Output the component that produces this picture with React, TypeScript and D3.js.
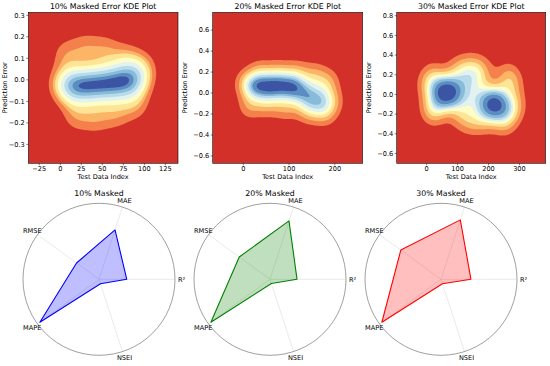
import React, { useMemo } from "react";
import * as d3 from "d3";

// ---------- KDE data (test data index, prediction error) ----------
const kdeTitles = ["10% Masked Error KDE Plot", "20% Masked Error KDE Plot", "30% Masked Error KDE Plot"];

const idx10 = [2, 6, 10, 14, 18, 22, 26, 30, 34, 38, 42, 46, 50, 54, 58, 62, 66, 70, 74, 78, 82, 86, 90, 94, 98];
const err10 = [-0.02, 0.12, -0.03, -0.03, -0.17, -0.03, -0.025, 0.15, -0.025, -0.025, -0.18, -0.02, -0.02, 0.14, -0.02, -0.015, -0.16, -0.01, -0.01, 0.1, -0.005, -0.005, -0.12, 0.0, 0.06];

const idx20 = [4, 12, 20, 28, 36, 44, 52, 60, 68, 76, 84, 92, 100, 108, 116, 124, 132, 140, 148, 156, 164, 172, 180, 188, 196];
const err20 = [0.1, -0.14, 0.05, 0.06, 0.2, 0.055, -0.12, 0.06, 0.055, 0.2, 0.06, -0.15, 0.055, 0.05, 0.2, 0.05, -0.05, -0.18, 0.0, 0.18, -0.12, -0.02, -0.2, 0.12, -0.08];

const idx30 = [0, 10, 20, 30, 40, 50, 60, 70, 80, 90, 100, 110, 120, 130, 140, 150, 160, 170, 180, 190, 200, 210, 220, 230, 240, 250, 260, 270, 280, 290];
const err30 = [0.1, -0.15, 0.2, -0.18, 0.03, 0.0, 0.04, 0.01, 0.03, -0.01, 0.26, -0.24, 0.12, -0.06, 0.28, -0.28, 0.15, -0.05, 0.26, -0.26, -0.08, -0.1, -0.09, -0.1, -0.08, -0.3, 0.2, -0.2, 0.12, -0.1];

const kdeIdx = [idx10, idx20, idx30];
const kdeErr = [err10, err20, err30];
const kdeBandwidth = [[13, 0.06], [20, 0.1], [30, 0.12]];
const isoProportions = [0.1, 0.2, 0.3, 0.4, 0.5, 0.6, 0.7, 0.8, 0.9];

const xLimits = [[-38, 140], [-67, 261], [-97, 385]];
const yLimits = [[-0.388, 0.314], [-0.67, 0.77], [-0.70, 0.835]];
const xTickValues = [[-25, 0, 25, 50, 75, 100, 125], [0, 100, 200], [0, 100, 200, 300]];
const yTickValues = [
  [-0.3, -0.2, -0.1, 0, 0.1, 0.2, 0.3],
  [-0.6, -0.4, -0.2, 0, 0.2, 0.4, 0.6],
  [-0.6, -0.4, -0.2, 0, 0.2, 0.4, 0.6, 0.8],
];

// ---------- Radar data ----------
const radarTitles = ["10% Masked", "20% Masked", "30% Masked"];
const metrics = ["R²", "MAE", "RMSE", "MAPE", "NSEI"];
const radar10 = [0.38, 0.71, 0.38, 1.0, 0.065];
const radar20 = [0.37, 0.84, 0.52, 1.0, 0.06];
const radar30 = [0.41, 0.855, 0.68, 1.0, 0.064];
const radarValues = [radar10, radar20, radar30];
const radarMax = 1.04;

// ---------- styles / layout ----------
const FONT = "DejaVu Sans";
const bandColors = ["#d3302a", "#f4804c", "#fcb467", "#fee495", "#fdfdc5", "#e1f2f0", "#b7dbea", "#88bbda", "#5b8cc2", "#3c54a4"];
const kdeBoxes = [
  { left: 28.3, right: 178, top: 12.3, bottom: 163.3, ylabX: 5 },
  { left: 212.7, right: 362.7, top: 12.3, bottom: 163.3, ylabX: 185 },
  { left: 396.7, right: 545.7, top: 12.3, bottom: 163.3, ylabX: 369 },
];
const radarCenters = [99, 270, 441];
const radarCY = 279.3;
const radarR = 76;
const radarColors = ["#0000ff", "#008000", "#ff0000"];

const fmtTick = (v: number, dec: number) => {
  const s = Math.abs(v).toFixed(dec);
  return (v < -1e-9 ? "\u2212" : "") + s;
};

function KdePanel({ k }: { k: number }) {
  const box = kdeBoxes[k];
  const xs = kdeIdx[k];
  const ys = kdeErr[k];
  const [bx, by] = kdeBandwidth[k];
  const xd = xLimits[k];
  const yd = yLimits[k];
  const x = d3.scaleLinear().domain(xd).range([box.left, box.right]);
  const y = d3.scaleLinear().domain(yd).range([box.bottom, box.top]);
  const nx = 160, ny = 150;

  const paths = useMemo(() => {
    const vals = new Array(nx * ny).fill(0);
    for (let j = 0; j < ny; j++) {
      const yv = yd[1] - ((j + 0.5) / ny) * (yd[1] - yd[0]);
      for (let i = 0; i < nx; i++) {
        const xv = xd[0] + ((i + 0.5) / nx) * (xd[1] - xd[0]);
        let s = 0;
        for (let p = 0; p < xs.length; p++) {
          const dx = (xv - xs[p]) / bx;
          const dy = (yv - ys[p]) / by;
          s += Math.exp(-0.5 * (dx * dx + dy * dy));
        }
        vals[i + j * nx] = s;
      }
    }
    const sorted = vals.slice().sort((a, b) => b - a);
    const total = d3.sum(sorted);
    const cum: number[] = [];
    let acc = 0;
    for (const v of sorted) { acc += v; cum.push(acc / total); }
    const levels = isoProportions.map((q) => {
      const idx = d3.bisectLeft(cum, 1 - q);
      return sorted[Math.min(idx, sorted.length - 1)];
    });
    const contours = d3.contours().size([nx, ny]).thresholds(levels)(vals);
    const proj = d3.geoTransform({
      point: function (px: number, py: number) {
        this.stream.point(box.left + (px / nx) * (box.right - box.left), box.top + (py / ny) * (box.bottom - box.top));
      },
    });
    const gp = d3.geoPath(proj);
    return contours.map((c) => gp(c as any) || "");
  }, [k]);

  const clipId = `clip${k}`;
  return (
    <g>
      <defs>
        <clipPath id={clipId}>
          <rect x={box.left} y={box.top} width={box.right - box.left} height={box.bottom - box.top} />
        </clipPath>
      </defs>
      <g clipPath={`url(#${clipId})`}>
        <rect x={box.left} y={box.top} width={box.right - box.left} height={box.bottom - box.top} fill={bandColors[0]} />
        {paths.map((d, i) => (
          <path key={i} d={d} fill={bandColors[i + 1]} stroke="none" />
        ))}
      </g>
      <rect x={box.left} y={box.top} width={box.right - box.left} height={box.bottom - box.top} fill="none" stroke="#000" strokeWidth={0.6} />
      {xTickValues[k].map((t) => (
        <g key={t}>
          <line x1={x(t)} x2={x(t)} y1={box.bottom} y2={box.bottom + 2} stroke="#000" strokeWidth={0.5} />
          <text x={x(t)} y={box.bottom + 8} fontSize={6.6} textAnchor="middle" fontFamily={FONT} fill="#000">{fmtTick(t, 0)}</text>
        </g>
      ))}
      {yTickValues[k].map((t) => (
        <g key={t}>
          <line x1={box.left - 2} x2={box.left} y1={y(t)} y2={y(t)} stroke="#000" strokeWidth={0.5} />
          <text x={box.left - 3.5} y={y(t)} dy="0.35em" fontSize={6.6} textAnchor="end" fontFamily={FONT} fill="#000">{fmtTick(t, 1)}</text>
        </g>
      ))}
      <text x={(box.left + box.right) / 2} y={box.top - 3} fontSize={7.8} textAnchor="middle" fontFamily={FONT} fill="#000">{kdeTitles[k]}</text>
      <text x={(box.left + box.right) / 2} y={179} fontSize={6.6} textAnchor="middle" fontFamily={FONT} fill="#000">Test Data Index</text>
      <text transform={`translate(${box.ylabX},${(box.top + box.bottom) / 2}) rotate(-90)`} dy="0.35em" fontSize={6.6} textAnchor="middle" fontFamily={FONT} fill="#000">Prediction Error</text>
    </g>
  );
}

function RadarPanel({ k }: { k: number }) {
  const cx = radarCenters[k];
  const r = d3.scaleLinear().domain([0, radarMax]).range([0, radarR]);
  const theta = (i: number) => (i * 2 * Math.PI) / metrics.length; // CCW from east
  const vals = radarValues[k];
  const line = d3
    .lineRadial<number>()
    .angle((_, i) => Math.PI / 2 - theta(i))
    .radius((d) => r(d))
    .curve(d3.curveLinearClosed);
  const d = line(vals) || "";
  return (
    <g>
      <g transform={`translate(${cx},${radarCY})`}>
        {metrics.map((m, i) => (
          <line key={m} x1={0} y1={0} x2={radarR * Math.cos(theta(i))} y2={-radarR * Math.sin(theta(i))} stroke="#dcdcdc" strokeWidth={0.6} />
        ))}
        <circle r={radarR} fill="none" stroke="#777" strokeWidth={0.7} />
        <path d={d} fill={radarColors[k]} fillOpacity={0.25} stroke="none" />
        <path d={d} fill="none" stroke={radarColors[k]} strokeWidth={1.1} strokeLinejoin="round" />
        {metrics.map((m, i) => (
          <text key={m} x={(radarR + 6.5) * Math.cos(theta(i))} y={-(radarR + 6.5) * Math.sin(theta(i))} dy="0.35em" fontSize={6.6} textAnchor="middle" fontFamily={FONT} fill="#000">{m}</text>
        ))}
      </g>
      <text x={cx} y={195.5} fontSize={7.8} textAnchor="middle" fontFamily={FONT} fill="#000">{radarTitles[k]}</text>
    </g>
  );
}

export default function App() {
  return (
    <svg width={550} height={366} style={{ position: "absolute", left: 0, top: 0, background: "#fff" }}>
      <rect width={550} height={366} fill="#fff" />
      {[0, 1, 2].map((k) => <KdePanel key={k} k={k} />)}
      {[0, 1, 2].map((k) => <RadarPanel key={`r${k}`} k={k} />)}
    </svg>
  );
}
